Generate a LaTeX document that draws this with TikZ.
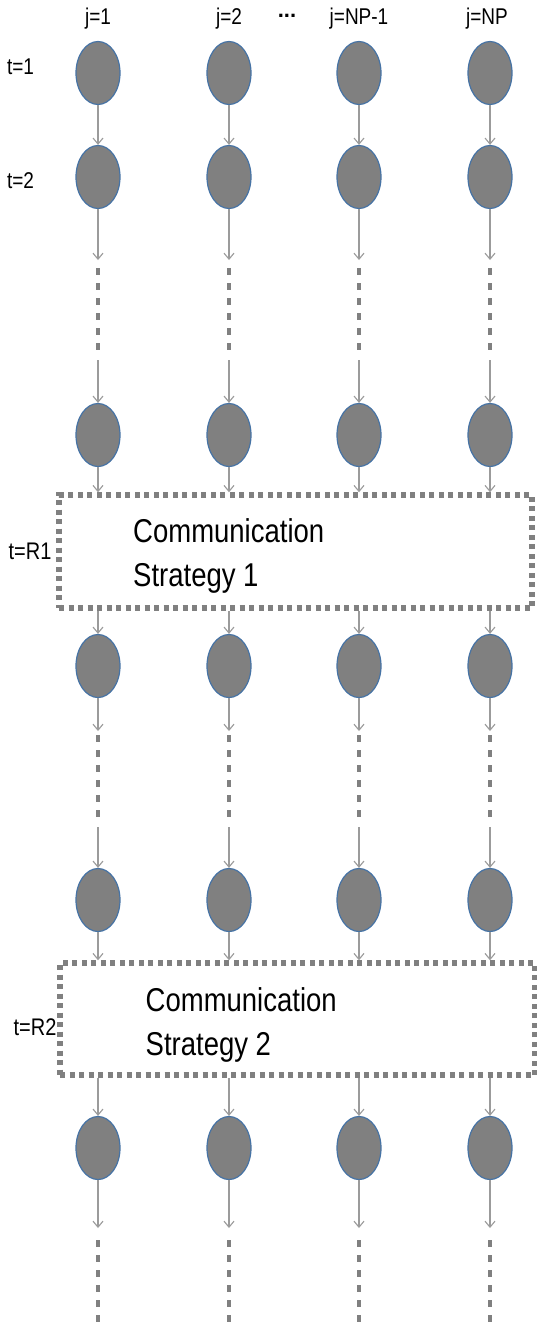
\documentclass[tikz,border=0pt]{standalone}
\usepackage{fontspec}
\setmainfont{Liberation Sans}
\usepackage{graphicx}
\usetikzlibrary{arrows.meta,positioning,shapes.geometric}
\definecolor{cellfill}{RGB}{128,128,128}
\definecolor{cellline}{RGB}{70,115,165}
\definecolor{flowgray}{RGB}{155,155,155}
\definecolor{dotgray}{RGB}{128,128,128}
\newcommand{\tallbox}[1]{\scalebox{1}[1.2]{#1}}
\begin{document}
\begin{tikzpicture}[x=1pt,y=-1pt]
        \tikzstyle{cell}=[ellipse,draw=cellline,line width=1.2pt,fill=cellfill,minimum width=44pt,minimum height=63pt,inner sep=0pt]
        \tikzstyle{flow}=[draw=flowgray,line width=1.1pt,-{Straight Barb[length=6pt,width=10pt]}]
        \tikzstyle{gap}=[draw=dotgray,line width=4.5pt,dash pattern=on 7pt off 8pt]
        \tikzstyle{strategy}=[rectangle,draw=dotgray,line width=5.5pt,dash pattern=on 5pt off 4.5pt,inner sep=0pt]
        \tikzstyle{lbl}=[font=\fontsize{19}{23}\selectfont,inner sep=0pt]
        \tikzstyle{rlbl}=[font=\fontsize{20}{24}\selectfont,inner sep=0pt]
        \tikzstyle{stext}=[font=\fontsize{27.5}{36.5}\selectfont,inner sep=0pt,anchor=west]
       \fill[white] (0,0) rectangle (537,1322);
       \useasboundingbox (0,0) rectangle (537,1322);
       % header labels
       \node [lbl] (j1) at (98,19) {\tallbox{j=1}};
       \node [lbl] (j2) at (229,19) {\tallbox{j=2}};
       \node [lbl,font=\fontsize{22}{26}\selectfont\bfseries,text height=3pt,text depth=0pt,anchor=base] (jdots) at (287,18) {...};
       \node [lbl] (j3) at (359,19) {\tallbox{j=NP-1}};
       \node [lbl] (j4) at (487,19) {\tallbox{j=NP}};
       \node [lbl] (t1) at (20.5,67) {\tallbox{t=1}};
       \node [lbl] (t2) at (20.5,181) {\tallbox{t=2}};
       \node [rlbl] (tr1) at (30,551) {\tallbox{t=R1}};
       \node [rlbl] (tr2) at (35,1027) {\tallbox{t=R2}};
       % strategy boxes
       \node [strategy,minimum width=473pt,minimum height=113pt] (cs1) at (295.5,551.5) {};
       \node [strategy,minimum width=475pt,minimum height=112pt] (cs2) at (297.5,1019) {};
       \node [stext] (cs1t) at (133,556) {\tallbox{\begin{tabular}{@{}l@{}}Communication\\Strategy 1\end{tabular}}};
       \node [stext] (cs2t) at (145.5,1025) {\tallbox{\begin{tabular}{@{}l@{}}Communication\\Strategy 2\end{tabular}}};
       % processors
       \foreach \c/\x in {1/98,2/229,3/359,4/490} {
         \foreach \r/\y in {1/73,2/177,3/435,4/666,5/900,6/1148}
           \node [cell] (n\r\c) at (\x,\y) {};
         \coordinate (ga\c) at (\x,260);
         \coordinate (gb\c) at (\x,268);
         \coordinate (gc\c) at (\x,354);
         \coordinate (gd\c) at (\x,360);
         \coordinate (ha\c) at (\x,731);
         \coordinate (hb\c) at (\x,735);
         \coordinate (hc\c) at (\x,820);
         \coordinate (hd\c) at (\x,827);
         \coordinate (ka\c) at (\x,1228);
         \coordinate (kb\c) at (\x,1240);
         \coordinate (kc\c) at (\x,1322);
         \path[flow] (n1\c) -- (n2\c);
         \path[flow] (n2\c) -- (ga\c);
         \path[gap] (gb\c) -- (gc\c);
         \path[flow] (gd\c) -- (n3\c);
         \path[flow] (n3\c) -- (n3\c |- cs1.north);
         \path[flow] (n4\c |- cs1.south) -- (n4\c);
         \path[flow] (n4\c) -- (ha\c);
         \path[gap] (hb\c) -- (hc\c);
         \path[flow] (hd\c) -- (n5\c);
         \path[flow] (n5\c) -- (n5\c |- cs2.north);
         \path[flow] (n6\c |- cs2.south) -- (n6\c);
         \path[flow] (n6\c) -- (ka\c);
         \path[gap] (kb\c) -- (kc\c);
       }
\end{tikzpicture}
\end{document}
